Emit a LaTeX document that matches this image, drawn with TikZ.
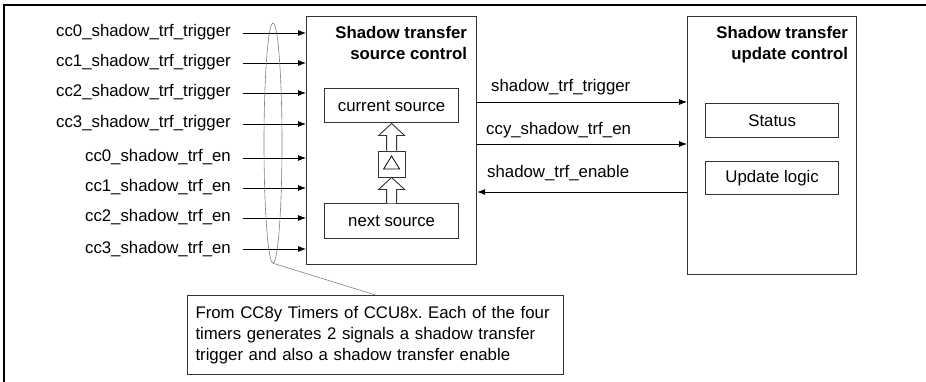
\documentclass[tikz,border=0pt]{standalone}
\usepackage{fontspec}
\setmainfont{Liberation Sans}
\usetikzlibrary{arrows.meta, calc, shapes.geometric}

\newcommand{\diagfont}{\fontsize{16.8}{21}\selectfont}
\frenchspacing

\tikzset{
  blk/.style={draw=black!80, line width=1.2pt, anchor=north west, inner sep=0pt},
  subblk/.style={draw=black!80, line width=1pt, minimum width=134pt, minimum height=34pt, inner sep=0pt},
  ttl/.style={anchor=north east, align=right, inner sep=0pt, font=\diagfont\bfseries},
  inlbl/.style={anchor=east, inner ysep=0pt, inner xsep=12pt, text height=12pt, text depth=4pt},
  siglbl/.style={anchor=base west, inner sep=0pt},
  sig/.style={-{Latex[length=8pt,width=6pt]}, line width=0.8pt},
  hollow/.style={draw=black!80, fill=white, line width=0.9pt},
}

\begin{document}
\begin{tikzpicture}[x=1pt, y=-1pt, font=\diagfont]

    % 1. Page and frame
    \useasboundingbox (0,0) rectangle (926,382);
    \draw[line width=1.2pt] (4,382) -- (4,5) -- (926,5);

    % 2. The two main blocks
    \node[blk, minimum width=170pt, minimum height=248pt] (src) at (306,16) {};
    \node[ttl] (srcttl) at ($(src.north east)+(-10,10.5)$) {Shadow transfer\\source control};
    \node[blk, minimum width=169pt, minimum height=258pt] (upd) at (687,16) {};
    \node[ttl] (updttl) at ($(upd.north east)+(-9,10.5)$) {Shadow transfer\\update control};

    % 3. Inside the source control
    \node[subblk] (cur) at ($(src.north)+(0,90)$) {current source};
    \node[subblk] (nxt) at ($(src.north)+(0,205)$) {next source};
    \node[draw=black!80, line width=0.9pt, minimum width=27pt, minimum height=26pt] (dlt) at ($(src.north)+(0,148)$) {};
    \draw[line width=0.8pt] ($(dlt)+(-8,5)$) -- ($(dlt)+(8,5)$) -- ($(dlt)+(0,-8)$) -- cycle;

    % hollow arrows next -> delta -> current
    \draw[hollow] ($(dlt.north)+(-5,0)$) -- ++(0,-15) -- ++(-8,0) -- (cur.south)
        -- ($(dlt.north)+(13,-15)$) -- ++(-8,0) -- ++(0,15);
    \draw[hollow] ($(nxt.north)+(-5,0)$) -- ++(0,-14) -- ++(-8,0) -- (dlt.south)
        -- ($(nxt.north)+(13,-14)$) -- ++(-8,0) -- ++(0,14);

    % 4. Inside the update control
    \node[subblk, minimum width=133pt] (sts) at ($(upd.north)+(0,105)$) {Status};
    \node[subblk, minimum width=133pt, minimum height=33pt] (lgc) at ($(upd.north)+(0,162)$) {Update logic};

    % 5. Inputs from the timers
    \node[inlbl] (trg0) at (243,33) {cc0\_shadow\_trf\_trigger};
    \node[inlbl] (trg1) at (243,63) {cc1\_shadow\_trf\_trigger};
    \node[inlbl] (trg2) at (243,93) {cc2\_shadow\_trf\_trigger};
    \node[inlbl] (trg3) at (243,124) {cc3\_shadow\_trf\_trigger};
    \node[inlbl] (en0) at (243,158) {cc0\_shadow\_trf\_en};
    \node[inlbl] (en1) at (243,188) {cc1\_shadow\_trf\_en};
    \node[inlbl] (en2) at (243,218) {cc2\_shadow\_trf\_en};
    \node[inlbl] (en3) at (243,249) {cc3\_shadow\_trf\_en};

    \draw[sig] (trg0.east) -- (trg0.east -| src.west);
    \draw[sig] (trg1.east) -- (trg1.east -| src.west);
    \draw[sig] (trg2.east) -- (trg2.east -| src.west);
    \draw[sig] (trg3.east) -- (trg3.east -| src.west);
    \draw[sig] (en0.east) -- (en0.east -| src.west);
    \draw[sig] (en1.east) -- (en1.east -| src.west);
    \draw[sig] (en2.east) -- (en2.east -| src.west);
    \draw[sig] (en3.east) -- (en3.east -| src.west);

    % 6. Signals between the blocks
    \node[siglbl] (trglbl) at (491,92) {shadow\_trf\_trigger};
    \node[siglbl] (ccylbl) at (486,135) {ccy\_shadow\_trf\_en};
    \node[siglbl] (enblbl) at (487,178) {shadow\_trf\_enable};
    \draw[sig] (src.east |- 0,102) -- (upd.west |- 0,102);
    \draw[sig] (src.east |- 0,144) -- (upd.west |- 0,144);
    \draw[sig] (upd.west |- 0,192) -- (src.east |- 0,192);

    % 7. Grouping ellipse and its note
    \node[draw=gray, line width=0.6pt, ellipse, minimum width=18pt, minimum height=240pt, inner sep=0pt] (grp) at (273,143) {};
    \node[draw=black!80, line width=1pt, anchor=north west, text width=360pt, inner xsep=8pt, inner ysep=10.5pt, align=left] (note) at (187,295)
        {From CC8y Timers of CCU8x. Each of the four timers generates 2 signals a shadow transfer trigger and also a shadow transfer enable};
    \draw[gray, line width=0.6pt] (grp.south) -- (note.north);

\end{tikzpicture}
\end{document}
